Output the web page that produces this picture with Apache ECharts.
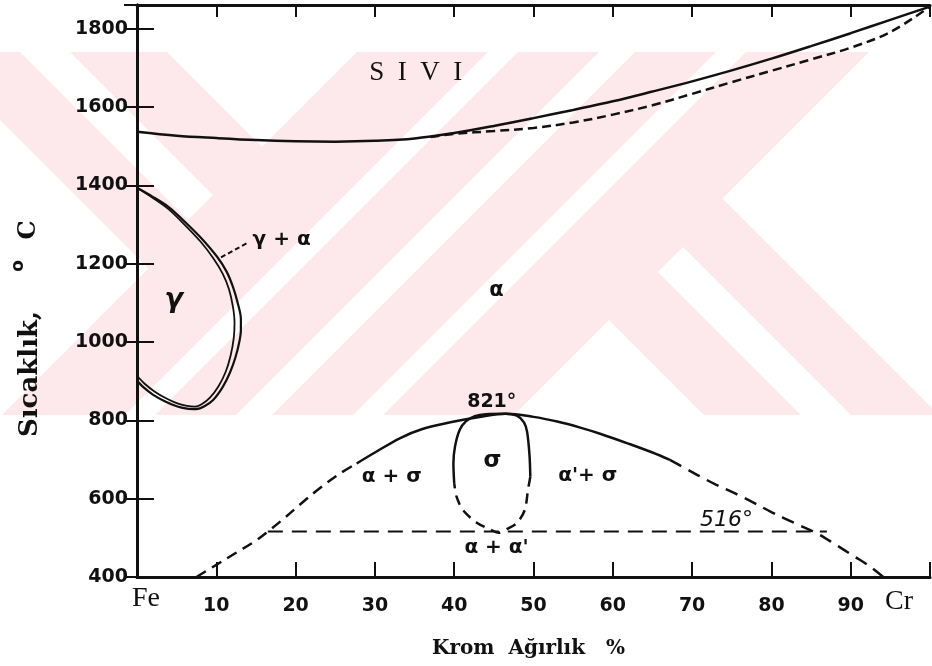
<!DOCTYPE html>
<html>
<head>
<meta charset="utf-8">
<script src="https://cdn.jsdelivr.net/npm/echarts@6/dist/echarts.min.js"></script>
<style>html,body{margin:0;padding:0;background:#fff}#c{width:932px;height:666px}</style>
</head>
<body>
<div id="c"></div>
<script>
// ---------------- data (Cr wt%, temperature °C) ----------------
const xTickLabels = ['Fe','10','20','30','40','50','60','70','80','90','Cr'];
const yMin = 400, yMax = 1861, yStep = 200;

const liquidus = [[0,1537],[5,1527],[10,1521],[15,1516],[20,1513],[25,1512],[30,1514],[35,1520],[40,1534],[45,1552],[50,1572],[55,1593],[60,1615],[65,1640],[70,1666],[75,1694],[80,1724],[85,1756],[90,1789],[95,1823],[100,1857]];
const solidus = [[37,1524],[40,1532],[45,1539],[50,1547],[55,1561],[60,1581],[65,1605],[70,1634],[75,1664],[80,1693],[85,1722],[90,1752],[95,1792],[100,1857]];

const gammaOuter = [[0,1394],[2,1371],[4,1345],[5.8,1312],[8,1268],[10.1,1218],[11.3,1180],[12.1,1141],[12.7,1100],[13.1,1060],[13.1,1030],[12.9,1000],[12.4,960],[11.7,921],[10.8,885],[9.6,852],[8.5,836],[7.5,829],[6.3,830],[5,836],[3.5,849],[2,866],[0.8,885],[0,902]];
const gammaInner = [[0,1394],[2,1368],[4,1339],[5.8,1304],[8,1257],[9.6,1215],[10.8,1175],[11.6,1135],[12.1,1090],[12.3,1050],[12.2,1010],[11.8,965],[11.2,925],[10.3,888],[9.2,858],[8.2,842],[7.3,835],[6.3,837],[5,844],[3.6,857],[2.2,874],[1,893],[0,914]];

const domeLeftDashed = [[7.5,400],[10,431],[12.5,462],[15,493],[16.5,516],[18.5,549],[20.6,586],[23,626],[25.5,663],[27.7,690]];
const domeSolid = [[27.7,690],[30,718],[33.2,755],[36,778],[40,797],[43,808],[46.5,817],[50,809],[53,797],[56,781],[58.4,766],[62.2,739],[65,718],[67.2,699]];
const domeRightDashed = [[67.2,699],[70,668],[71,657],[73,636],[76.4,604],[80,566],[83,537],[85.7,512],[88,484],[90.5,452],[92.5,426],[94.1,400]];
const line516 = [[16.5,516],[87,516]];

const sigmaSolid = [[40.0,640],[39.9,690],[40.1,733],[40.7,776],[41.5,798],[42.6,811],[44,816],[46.5,817],[47.9,812],[48.8,795],[49.2,770],[49.5,710],[49.6,656]];
const sigmaDashed = [[49.6,656],[49.3,622],[48.9,571],[47.9,538],[46.6,522],[45.6,513],[44.7,520],[42.9,538],[41.1,571],[40.3,605],[40.0,640]];

const gammaArrow = [[13.8,1252],[10.2,1212]];

const labelTexts = ['S  I  V  I','γ','α','γ + α','821°','α + σ','σ',"α'+ σ",'516°',"α + α'"];
const labelX     = [35.2, 4.7, 45.4, 18.3, 44.8, 32.2, 44.9, 56.9, 74.4, 45.4];
const labelT     = [1687, 1105, 1130, 1261, 846, 654, 696, 656, 543, 474];

// ---------------- styling ----------------
const INK = '#111111';
const SANS = '"DejaVu Sans", sans-serif';
const SERIF = '"DejaVu Serif", serif';
const TIMES = '"Liberation Serif", serif';
const labelFonts = [
  {fontFamily: TIMES, fontSize: 27},
  {fontFamily: SANS, fontSize: 27, fontStyle: 'italic', fontWeight: 'bold'},
  {fontFamily: SANS, fontSize: 21, fontWeight: 'bold'},
  {fontFamily: SANS, fontSize: 20, fontWeight: 'bold'},
  {fontFamily: SANS, fontSize: 19, fontWeight: 'bold'},
  {fontFamily: SANS, fontSize: 20, fontWeight: 'bold'},
  {fontFamily: SANS, fontSize: 23, fontWeight: 'bold'},
  {fontFamily: SANS, fontSize: 20, fontWeight: 'bold'},
  {fontFamily: SANS, fontSize: 22, fontStyle: 'italic'},
  {fontFamily: SANS, fontSize: 20, fontWeight: 'bold'}
];

// watermark (pixel-space decoration): pink band with diagonal white cut-outs
function diamond(u1, u2, v1, v2) {
  return [[(u1+v1)/2,(u1-v1)/2],[(u2+v1)/2,(u2-v1)/2],[(u2+v2)/2,(u2-v2)/2],[(u1+v2)/2,(u1-v2)/2]];
}
function watermark() {
  const B = 5000;
  const cuts = [
    [921, B, 524, B], [930, B, 386, 436], [929, B, -B, 289],
    [651, 687, -B, B], [768, 798, -B, B], [540, 570, -B, B],
    [-B, 417, -B, -120], [-B, 408, -32, 18], [-B, 409, 115, B]
  ];
  const els = [{type: 'rect', z: -10, silent: true, shape: {x: 0, y: 52, width: 932, height: 363}, style: {fill: '#fde8ec'}}];
  cuts.forEach(c => els.push({type: 'polygon', z: -9, silent: true, shape: {points: diamond(c[0], c[1], c[2], c[3])}, style: {fill: '#ffffff'}}));
  return els;
}

function lineSeries(data, width, dash, smooth) {
  return {
    type: 'line', data: data, symbol: 'none', smooth: smooth === undefined ? 0.35 : smooth,
    lineStyle: {color: INK, width: width, type: dash || 'solid'}, silent: true, z: 3
  };
}

function vText(text, x, y, font) {
  return {type: 'text', z: 10, x: x, y: y, rotation: Math.PI / 2, silent: true,
    style: {text: text, font: font, fill: INK, align: 'center', verticalAlign: 'middle', textAlign: 'center', textVerticalAlign: 'middle'}};
}
const yAxisName = [
  vText('Sıcaklık,', 30, 374, 'bold 26px "DejaVu Serif"'),
  vText('o', 19, 266, 'bold 17px "DejaVu Sans"'),
  vText('C', 29, 230, 'bold 24px "DejaVu Serif"')
];

const chart = echarts.init(document.getElementById('c'));
const axisLineStyle = {color: INK, width: 3};
const tickStyle = {color: INK, width: 2};

chart.setOption({
  animation: false,
  backgroundColor: '#ffffff',
  graphic: {elements: watermark().concat(yAxisName)},
  grid: {left: 137, right: 2, top: 5, bottom: 89, containLabel: false, outerBoundsMode: 'none'},
  xAxis: [
    {type: 'value', min: 0, max: 100, interval: 10, position: 'bottom', z: 4,
     axisLine: {lineStyle: axisLineStyle}, splitLine: {show: false},
     axisTick: {inside: true, length: 15, lineStyle: tickStyle},
     axisLabel: {
       margin: 19, color: INK,
       formatter: function (v) {
         const i = Math.round(v / 10);
         if (i === 0) return '{fe|' + xTickLabels[i] + '}';
         if (i === 10) return '{cr|' + xTickLabels[i] + '}';
         return '{n|' + xTickLabels[i] + '}';
       },
       rich: {
         n: {fontFamily: SANS, fontSize: 19, fontWeight: 'bold', lineHeight: 20, color: INK},
         fe: {fontFamily: TIMES, fontSize: 28, lineHeight: 6, color: INK, padding: [0, 0, 0, 18]},
         cr: {fontFamily: TIMES, fontSize: 28, lineHeight: 12, color: INK, padding: [0, 62, 0, 0]}
       }
     },
     name: 'Krom  Ağırlık   %', nameLocation: 'middle', nameGap: 62,
     nameTextStyle: {fontFamily: SERIF, fontWeight: 'bold', fontSize: 20, color: INK, padding: [0, 10, 0, 0]}
    },
    {type: 'value', min: 0, max: 100, interval: 10, position: 'top', z: 4,
     axisLine: {lineStyle: axisLineStyle}, splitLine: {show: false},
     axisTick: {inside: true, length: 12, lineStyle: tickStyle}, axisLabel: {show: false}}
  ],
  yAxis: [
    {type: 'value', min: yMin, max: yMax, interval: yStep, position: 'left', z: 4,
     axisLine: {lineStyle: axisLineStyle}, splitLine: {show: false},
     axisTick: {inside: true, length: 17, lineStyle: tickStyle},
     axisLabel: {margin: 9, color: INK, fontFamily: SANS, fontSize: 19, fontWeight: 'bold', showMaxLabel: false,
       formatter: function (v) { return String(v); }}},
    {type: 'value', min: yMin, max: yMax, interval: yStep, position: 'right', z: 4,
     axisLine: {lineStyle: axisLineStyle}, splitLine: {show: false},
     axisTick: {inside: true, length: 13, lineStyle: tickStyle}, axisLabel: {show: false}}
  ],
  series: [
    lineSeries(liquidus, 2.5),
    lineSeries(solidus, 2.5, [9, 5]),
    Object.assign(lineSeries(gammaOuter, 2.2, null, 0.3), {
      markLine: {
        silent: true, symbol: ['none', 'arrow'], symbolSize: [0, 11],
        label: {show: false},
        lineStyle: {color: INK, width: 2, type: [5, 3]},
        data: [[{coord: gammaArrow[0]}, {coord: gammaArrow[1]}]]
      }
    }),
    lineSeries(gammaInner, 1.8, null, 0.3),
    lineSeries(domeLeftDashed, 2.5, [11, 7]),
    lineSeries(domeSolid, 2.5),
    lineSeries(domeRightDashed, 2.5, [13, 8]),
    lineSeries(line516, 2, [15, 9], false),
    lineSeries(sigmaSolid, 2.5, null, 0.3),
    lineSeries(sigmaDashed, 2.5, [10, 7], 0.3),
    {
      type: 'scatter', symbolSize: 1, silent: true, z: 6,
      itemStyle: {color: 'rgba(0,0,0,0)', opacity: 1},
      data: labelTexts.map((t, i) => ({
        value: [labelX[i], labelT[i]],
        label: Object.assign({show: true, position: [0, 0], align: 'center', verticalAlign: 'middle',
          formatter: t, color: INK, opacity: 1, textBorderWidth: 0}, labelFonts[i])
      }))
    }
  ]
});
</script>
</body>
</html>
